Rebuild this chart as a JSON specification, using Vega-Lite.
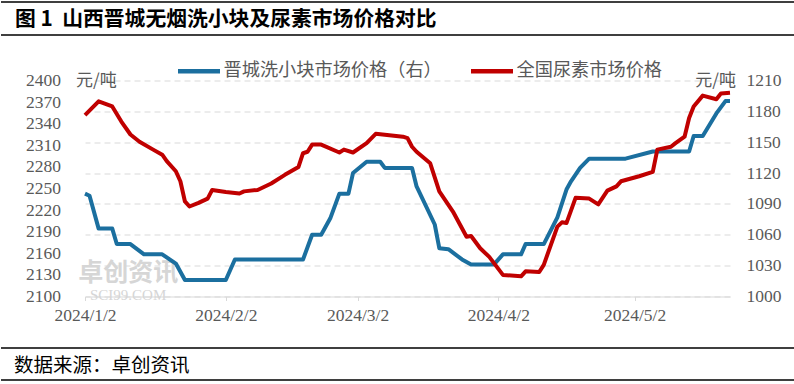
{
  "$schema": "https://vega.github.io/schema/vega-lite/v6.json",
  "background": "white",
  "padding": {"top": 1, "left": 0, "right": 0, "bottom": 0},
  "spacing": 23,
  "resolve": {"scale": {"color": "independent"}, "legend": {"color": "independent"}},
  "vconcat": [
    {
      "spacing": 11.5,
      "resolve": {"scale": {"color": "independent"}, "legend": {"color": "independent"}},
      "vconcat": [
        {
          "width": 794,
          "height": 33,
          "view": {"stroke": "#000000", "strokeWidth": 1.5, "strokeDash": [794, 33]},
          "data": {"values": [{"label": "图 1\u00a0\u00a0山西晋城无烟洗小块及尿素市场价格对比"}]},
          "mark": {"type": "text", "align": "left", "baseline": "middle", "dy": 1, "font": "Noto Sans CJK SC", "fontSize": 20.8, "fontWeight": "bold", "color": "#000000"},
          "encoding": {"text": {"field": "label"}, "x": {"value": 14}}
        },
        {
          "spacing": 1,
          "resolve": {"scale": {"color": "independent"}, "legend": {"color": "independent"}},
          "hconcat": [
            {
              "width": 1,
              "height": 1,
              "view": {"stroke": null},
              "data": {"values": []},
              "mark": {"type": "text"},
              "encoding": {}
            },
            {
              "width": 645,
              "height": 216,
              "view": {"stroke": null},
              "data": {"values": [
                {"date": "2024-01-02", "series": "晋城洗小块市场价格（右）", "price": 1100},
                {"date": "2024-01-03", "series": "晋城洗小块市场价格（右）", "price": 1098},
                {"date": "2024-01-05", "series": "晋城洗小块市场价格（右）", "price": 1066},
                {"date": "2024-01-08", "series": "晋城洗小块市场价格（右）", "price": 1066},
                {"date": "2024-01-09", "series": "晋城洗小块市场价格（右）", "price": 1051},
                {"date": "2024-01-12", "series": "晋城洗小块市场价格（右）", "price": 1051},
                {"date": "2024-01-15", "series": "晋城洗小块市场价格（右）", "price": 1041},
                {"date": "2024-01-19", "series": "晋城洗小块市场价格（右）", "price": 1041},
                {"date": "2024-01-22", "series": "晋城洗小块市场价格（右）", "price": 1032},
                {"date": "2024-01-24", "series": "晋城洗小块市场价格（右）", "price": 1016},
                {"date": "2024-02-02", "series": "晋城洗小块市场价格（右）", "price": 1016},
                {"date": "2024-02-04", "series": "晋城洗小块市场价格（右）", "price": 1036},
                {"date": "2024-02-19", "series": "晋城洗小块市场价格（右）", "price": 1036},
                {"date": "2024-02-21", "series": "晋城洗小块市场价格（右）", "price": 1060},
                {"date": "2024-02-23", "series": "晋城洗小块市场价格（右）", "price": 1060},
                {"date": "2024-02-25", "series": "晋城洗小块市场价格（右）", "price": 1076},
                {"date": "2024-02-27", "series": "晋城洗小块市场价格（右）", "price": 1100},
                {"date": "2024-02-29", "series": "晋城洗小块市场价格（右）", "price": 1100},
                {"date": "2024-03-01", "series": "晋城洗小块市场价格（右）", "price": 1120},
                {"date": "2024-03-04", "series": "晋城洗小块市场价格（右）", "price": 1131},
                {"date": "2024-03-07", "series": "晋城洗小块市场价格（右）", "price": 1131},
                {"date": "2024-03-08", "series": "晋城洗小块市场价格（右）", "price": 1125},
                {"date": "2024-03-14", "series": "晋城洗小块市场价格（右）", "price": 1125},
                {"date": "2024-03-15", "series": "晋城洗小块市场价格（右）", "price": 1107},
                {"date": "2024-03-19", "series": "晋城洗小块市场价格（右）", "price": 1070},
                {"date": "2024-03-20", "series": "晋城洗小块市场价格（右）", "price": 1047},
                {"date": "2024-03-22", "series": "晋城洗小块市场价格（右）", "price": 1046},
                {"date": "2024-03-25", "series": "晋城洗小块市场价格（右）", "price": 1036},
                {"date": "2024-03-27", "series": "晋城洗小块市场价格（右）", "price": 1031},
                {"date": "2024-04-01", "series": "晋城洗小块市场价格（右）", "price": 1031},
                {"date": "2024-04-03", "series": "晋城洗小块市场价格（右）", "price": 1041},
                {"date": "2024-04-07", "series": "晋城洗小块市场价格（右）", "price": 1041},
                {"date": "2024-04-08", "series": "晋城洗小块市场价格（右）", "price": 1051},
                {"date": "2024-04-12", "series": "晋城洗小块市场价格（右）", "price": 1051},
                {"date": "2024-04-15", "series": "晋城洗小块市场价格（右）", "price": 1077},
                {"date": "2024-04-17", "series": "晋城洗小块市场价格（右）", "price": 1104},
                {"date": "2024-04-18", "series": "晋城洗小块市场价格（右）", "price": 1112},
                {"date": "2024-04-20", "series": "晋城洗小块市场价格（右）", "price": 1125},
                {"date": "2024-04-22", "series": "晋城洗小块市场价格（右）", "price": 1134},
                {"date": "2024-04-30", "series": "晋城洗小块市场价格（右）", "price": 1134},
                {"date": "2024-05-06", "series": "晋城洗小块市场价格（右）", "price": 1141},
                {"date": "2024-05-14", "series": "晋城洗小块市场价格（右）", "price": 1141},
                {"date": "2024-05-15", "series": "晋城洗小块市场价格（右）", "price": 1156},
                {"date": "2024-05-17", "series": "晋城洗小块市场价格（右）", "price": 1156},
                {"date": "2024-05-20", "series": "晋城洗小块市场价格（右）", "price": 1178},
                {"date": "2024-05-22", "series": "晋城洗小块市场价格（右）", "price": 1190},
                {"date": "2024-05-23", "series": "晋城洗小块市场价格（右）", "price": 1190},
                {"date": "2024-01-02", "series": "全国尿素市场价格", "price": 2352},
                {"date": "2024-01-05", "series": "全国尿素市场价格", "price": 2371},
                {"date": "2024-01-08", "series": "全国尿素市场价格", "price": 2364},
                {"date": "2024-01-10", "series": "全国尿素市场价格", "price": 2343},
                {"date": "2024-01-12", "series": "全国尿素市场价格", "price": 2325},
                {"date": "2024-01-14", "series": "全国尿素市场价格", "price": 2315},
                {"date": "2024-01-17", "series": "全国尿素市场价格", "price": 2304},
                {"date": "2024-01-19", "series": "全国尿素市场价格", "price": 2297},
                {"date": "2024-01-20", "series": "全国尿素市场价格", "price": 2288},
                {"date": "2024-01-22", "series": "全国尿素市场价格", "price": 2274},
                {"date": "2024-01-23", "series": "全国尿素市场价格", "price": 2260},
                {"date": "2024-01-24", "series": "全国尿素市场价格", "price": 2232},
                {"date": "2024-01-25", "series": "全国尿素市场价格", "price": 2225},
                {"date": "2024-01-27", "series": "全国尿素市场价格", "price": 2230},
                {"date": "2024-01-29", "series": "全国尿素市场价格", "price": 2236},
                {"date": "2024-01-30", "series": "全国尿素市场价格", "price": 2248},
                {"date": "2024-02-02", "series": "全国尿素市场价格", "price": 2245},
                {"date": "2024-02-05", "series": "全国尿素市场价格", "price": 2243},
                {"date": "2024-02-06", "series": "全国尿素市场价格", "price": 2246},
                {"date": "2024-02-09", "series": "全国尿素市场价格", "price": 2248},
                {"date": "2024-02-12", "series": "全国尿素市场价格", "price": 2257},
                {"date": "2024-02-15", "series": "全国尿素市场价格", "price": 2269},
                {"date": "2024-02-18", "series": "全国尿素市场价格", "price": 2280},
                {"date": "2024-02-19", "series": "全国尿素市场价格", "price": 2299},
                {"date": "2024-02-20", "series": "全国尿素市场价格", "price": 2301},
                {"date": "2024-02-21", "series": "全国尿素市场价格", "price": 2311},
                {"date": "2024-02-23", "series": "全国尿素市场价格", "price": 2311},
                {"date": "2024-02-27", "series": "全国尿素市场价格", "price": 2300},
                {"date": "2024-02-28", "series": "全国尿素市场价格", "price": 2304},
                {"date": "2024-03-01", "series": "全国尿素市场价格", "price": 2300},
                {"date": "2024-03-04", "series": "全国尿素市场价格", "price": 2313},
                {"date": "2024-03-06", "series": "全国尿素市场价格", "price": 2326},
                {"date": "2024-03-12", "series": "全国尿素市场价格", "price": 2322},
                {"date": "2024-03-13", "series": "全国尿素市场价格", "price": 2320},
                {"date": "2024-03-14", "series": "全国尿素市场价格", "price": 2308},
                {"date": "2024-03-15", "series": "全国尿素市场价格", "price": 2301},
                {"date": "2024-03-18", "series": "全国尿素市场价格", "price": 2285},
                {"date": "2024-03-20", "series": "全国尿素市场价格", "price": 2246},
                {"date": "2024-03-23", "series": "全国尿素市场价格", "price": 2218},
                {"date": "2024-03-26", "series": "全国尿素市场价格", "price": 2183},
                {"date": "2024-03-27", "series": "全国尿素市场价格", "price": 2184},
                {"date": "2024-03-29", "series": "全国尿素市场价格", "price": 2167},
                {"date": "2024-03-31", "series": "全国尿素市场价格", "price": 2155},
                {"date": "2024-04-03", "series": "全国尿素市场价格", "price": 2130},
                {"date": "2024-04-07", "series": "全国尿素市场价格", "price": 2128},
                {"date": "2024-04-08", "series": "全国尿素市场价格", "price": 2135},
                {"date": "2024-04-11", "series": "全国尿素市场价格", "price": 2134},
                {"date": "2024-04-12", "series": "全国尿素市场价格", "price": 2144},
                {"date": "2024-04-15", "series": "全国尿素市场价格", "price": 2197},
                {"date": "2024-04-16", "series": "全国尿素市场价格", "price": 2203},
                {"date": "2024-04-17", "series": "全国尿素市场价格", "price": 2202},
                {"date": "2024-04-19", "series": "全国尿素市场价格", "price": 2237},
                {"date": "2024-04-22", "series": "全国尿素市场价格", "price": 2236},
                {"date": "2024-04-24", "series": "全国尿素市场价格", "price": 2228},
                {"date": "2024-04-26", "series": "全国尿素市场价格", "price": 2247},
                {"date": "2024-04-28", "series": "全国尿素市场价格", "price": 2253},
                {"date": "2024-04-29", "series": "全国尿素市场价格", "price": 2260},
                {"date": "2024-05-03", "series": "全国尿素市场价格", "price": 2267},
                {"date": "2024-05-06", "series": "全国尿素市场价格", "price": 2273},
                {"date": "2024-05-07", "series": "全国尿素市场价格", "price": 2304},
                {"date": "2024-05-10", "series": "全国尿素市场价格", "price": 2308},
                {"date": "2024-05-11", "series": "全国尿素市场价格", "price": 2313},
                {"date": "2024-05-13", "series": "全国尿素市场价格", "price": 2322},
                {"date": "2024-05-14", "series": "全国尿素市场价格", "price": 2348},
                {"date": "2024-05-15", "series": "全国尿素市场价格", "price": 2364},
                {"date": "2024-05-17", "series": "全国尿素市场价格", "price": 2379},
                {"date": "2024-05-20", "series": "全国尿素市场价格", "price": 2374},
                {"date": "2024-05-21", "series": "全国尿素市场价格", "price": 2382},
                {"date": "2024-05-23", "series": "全国尿素市场价格", "price": 2383}
              ]},
              "layer": [
                {
                  "data": {"values": [{"wm": "卓创资讯"}]},
                  "mark": {"type": "text", "font": "Noto Sans CJK SC", "fontSize": 25, "fontWeight": "bold", "color": "#d6d6d6", "align": "center", "baseline": "middle"},
                  "encoding": {
                    "x": {"datum": {"year": 2024, "month": 1, "date": 11, "hours": 12, "utc": true}, "type": "temporal"},
                    "y": {"datum": 2132, "type": "quantitative", "scale": {"domain": [2100, 2400], "nice": false, "zero": false}, "axis": null},
                    "text": {"field": "wm"}
                  }
                },
                {
                  "data": {"values": [{"wm": "SCI99.COM"}]},
                  "mark": {"type": "text", "font": "Liberation Serif", "fontSize": 15, "color": "#d6d6d6", "align": "center", "baseline": "middle"},
                  "encoding": {
                    "x": {"datum": {"year": 2024, "month": 1, "date": 11, "hours": 12, "utc": true}, "type": "temporal"},
                    "y": {"datum": 2102, "type": "quantitative", "scale": {"domain": [2100, 2400], "nice": false, "zero": false}, "axis": null},
                    "text": {"field": "wm"}
                  }
                },
                {
                  "transform": [{"filter": "datum.series === '晋城洗小块市场价格（右）'"}],
                  "mark": {"type": "line", "strokeWidth": 4, "strokeJoin": "round"},
                  "encoding": {
                    "x": {
                      "field": "date",
                      "type": "temporal",
                      "scale": {"type": "utc", "domain": [{"year": 2024, "month": 1, "date": 2, "utc": true}, {"year": 2024, "month": 5, "date": 23, "utc": true}]},
                      "axis": {
                        "values": [
                          {"year": 2024, "month": 1, "date": 2, "utc": true},
                          {"year": 2024, "month": 2, "date": 2, "utc": true},
                          {"year": 2024, "month": 3, "date": 2, "utc": true},
                          {"year": 2024, "month": 4, "date": 2, "utc": true},
                          {"year": 2024, "month": 5, "date": 2, "utc": true}
                        ],
                        "format": "%Y/%-m/%-d",
                        "title": null,
                        "grid": false,
                        "domainColor": "#d9d9d9",
                        "domainWidth": 1,
                        "tickColor": "#d9d9d9",
                        "tickSize": 4,
                        "labelFont": "Liberation Serif",
                        "labelFontSize": 17.5,
                        "labelColor": "#595959",
                        "labelPadding": 6,
                        "labelFlush": false,
                        "labelOverlap": false
                      }
                    },
                    "y": {
                      "field": "price",
                      "type": "quantitative",
                      "scale": {"domain": [1000, 1210], "nice": false, "zero": false},
                      "axis": {
                        "orient": "right",
                        "values": [1000, 1030, 1060, 1090, 1120, 1150, 1180, 1210],
                        "format": "d",
                        "title": "元/吨",
                        "titleAngle": 0,
                        "titleAlign": "right",
                        "titleBaseline": "middle",
                        "titleX": 5.5,
                        "titleY": 0,
                        "titleFont": "Noto Sans CJK SC",
                        "titleFontSize": 17,
                        "titleFontWeight": "normal",
                        "titleColor": "#595959",
                        "domain": false,
                        "ticks": false,
                        "grid": true,
                        "gridColor": "#d9d9d9",
                        "gridDash": [6, 4],
                        "gridWidth": 1,
                        "labelFont": "Liberation Serif",
                        "labelFontSize": 17.5,
                        "labelColor": "#595959",
                        "labelPadding": 16,
                        "labelBaseline": "middle",
                        "labelOverlap": false,
                        "labelFlush": false
                      }
                    },
                    "color": {
                      "field": "series",
                      "type": "nominal",
                      "scale": {"domain": ["晋城洗小块市场价格（右）", "全国尿素市场价格"], "range": ["#1b6f9f", "#c00000"]},
                      "legend": {
                        "orient": "none",
                        "legendX": 90.5,
                        "legendY": -33,
                        "direction": "horizontal",
                        "title": null,
                        "padding": 0,
                        "symbolType": "stroke",
                        "symbolSize": 1764,
                        "symbolStrokeWidth": 4.5,
                        "labelFont": "Noto Sans CJK SC",
                        "labelFontSize": 18.2,
                        "labelColor": "#595959",
                        "labelOffset": 1,
                        "labelLimit": 400,
                        "columnPadding": 19
                      }
                    }
                  }
                },
                {
                  "transform": [{"filter": "datum.series === '全国尿素市场价格'"}],
                  "mark": {"type": "line", "strokeWidth": 4, "strokeJoin": "round"},
                  "encoding": {
                    "x": {
                      "field": "date",
                      "type": "temporal",
                      "scale": {"type": "utc", "domain": [{"year": 2024, "month": 1, "date": 2, "utc": true}, {"year": 2024, "month": 5, "date": 23, "utc": true}]},
                      "axis": {
                        "values": [
                          {"year": 2024, "month": 1, "date": 2, "utc": true},
                          {"year": 2024, "month": 2, "date": 2, "utc": true},
                          {"year": 2024, "month": 3, "date": 2, "utc": true},
                          {"year": 2024, "month": 4, "date": 2, "utc": true},
                          {"year": 2024, "month": 5, "date": 2, "utc": true}
                        ],
                        "format": "%Y/%-m/%-d",
                        "title": null,
                        "grid": false,
                        "domainColor": "#d9d9d9",
                        "domainWidth": 1,
                        "tickColor": "#d9d9d9",
                        "tickSize": 4,
                        "labelFont": "Liberation Serif",
                        "labelFontSize": 17.5,
                        "labelColor": "#595959",
                        "labelPadding": 6,
                        "labelFlush": false,
                        "labelOverlap": false
                      }
                    },
                    "y": {
                      "field": "price",
                      "type": "quantitative",
                      "scale": {"domain": [2100, 2400], "nice": false, "zero": false},
                      "axis": {
                        "orient": "left",
                        "values": [2100, 2130, 2160, 2190, 2220, 2250, 2280, 2310, 2340, 2370, 2400],
                        "format": "d",
                        "title": "元/吨",
                        "titleAngle": 0,
                        "titleAlign": "left",
                        "titleBaseline": "middle",
                        "titleX": -9.5,
                        "titleY": 0,
                        "titleFont": "Noto Sans CJK SC",
                        "titleFontSize": 17,
                        "titleFontWeight": "normal",
                        "titleColor": "#595959",
                        "domain": false,
                        "ticks": false,
                        "grid": false,
                        "labelFont": "Liberation Serif",
                        "labelFontSize": 17.5,
                        "labelColor": "#595959",
                        "labelPadding": 24.5,
                        "labelBaseline": "middle",
                        "labelOverlap": false,
                        "labelFlush": false,
                        "minExtent": 81.5
                      }
                    },
                    "color": {"field": "series", "type": "nominal"}
                  }
                }
              ],
              "resolve": {"scale": {"y": "independent"}}
            }
          ]
        }
      ]
    },
    {
      "width": 794,
      "height": 32,
      "view": {"stroke": "#000000", "strokeWidth": 1.5, "strokeDash": [794, 32]},
      "data": {"values": [{"label": "数据来源：卓创资讯"}]},
      "mark": {"type": "text", "align": "left", "baseline": "middle", "dy": 2, "font": "Noto Sans CJK SC", "fontSize": 19.5, "color": "#000000"},
      "encoding": {"text": {"field": "label"}, "x": {"value": 13}}
    }
  ]
}
